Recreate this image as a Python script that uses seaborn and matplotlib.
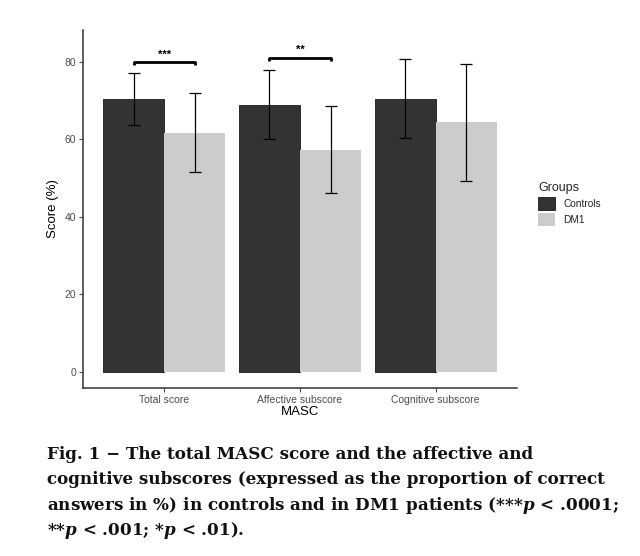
import matplotlib
matplotlib.use("Agg")
import matplotlib.pyplot as plt
import seaborn as sns
import pandas as pd
from matplotlib.patches import Patch

categories = ["Total score", "Affective subscore", "Cognitive subscore"]
groups = ["Controls", "DM1"]
controls_mean = [70.3, 68.9, 70.4]
controls_low = [63.7, 60.0, 60.3]
controls_high = [77.0, 78.0, 80.8]
dm1_mean = [61.7, 57.3, 64.4]
dm1_low = [51.6, 46.2, 49.3]
dm1_high = [72.0, 68.5, 79.5]
sig_categories = ["Total score", "Affective subscore"]
sig_labels = ["***", "**"]
sig_heights = [80.0, 81.1]

colors = ["#333333", "#CCCCCC"]

df = pd.DataFrame({
    "MASC": categories * 2,
    "Score": controls_mean + dm1_mean,
    "Groups": [groups[0]] * 3 + [groups[1]] * 3,
    "low": controls_low + dm1_low,
    "high": controls_high + dm1_high,
})

sns.set_theme(style="white")
plt.rcParams["font.family"] = ["Liberation Sans", "DejaVu Sans"]
plt.rcParams["mathtext.fontset"] = "custom"
plt.rcParams["mathtext.it"] = "DejaVu Serif:bold:italic"
plt.rcParams["mathtext.rm"] = "DejaVu Serif:bold"

fig = plt.figure(figsize=(6.4, 5.56), dpi=100)
ax = fig.add_axes([83 / 640, 1 - 388 / 556, 434 / 640, 358 / 556])

sns.barplot(data=df, x="MASC", y="Score", hue="Groups", order=categories,
            hue_order=groups, palette=colors, width=0.9, gap=0,
            errorbar=None, ax=ax, legend=False, linewidth=0, saturation=1)

bar_containers = list(ax.containers)
centers = {}
for gi, cont in enumerate(bar_containers):
    sub = df[df["Groups"] == groups[gi]].set_index("MASC").loc[categories]
    xs = [p.get_x() + p.get_width() / 2 for p in cont.patches]
    for c, x in zip(categories, xs):
        centers[(c, groups[gi])] = x
    ys = sub["Score"].values
    lo = ys - sub["low"].values
    hi = sub["high"].values - ys
    ax.errorbar(xs, ys, yerr=[lo, hi], fmt="none", ecolor="#000000",
                elinewidth=0.9, capsize=4.5, capthick=0.9)
    if gi == 0:
        for p in cont.patches:
            p.set_edgecolor("#1a1a1a")
            p.set_linewidth(0.6)

for c, lab, h in zip(sig_categories, sig_labels, sig_heights):
    x0 = centers[(c, groups[0])]
    x1 = centers[(c, groups[1])]
    ax.plot([x0, x0, x1, x1], [h - 0.9, h, h, h - 0.9], color="black",
            lw=2.0, solid_capstyle="butt")
    ax.text((x0 + x1) / 2, h + 0.6, lab, ha="center", va="bottom",
            fontsize=8, fontweight="bold", color="black")

ax.set_xlim(-0.6, 2.6)
ax.set_ylim(-4.2, 88.2)
ax.set_yticks([0, 20, 40, 60, 80])
ax.set_xlabel("MASC", fontsize=9.5, color="black", labelpad=1)
ax.set_ylabel("Score (%)", fontsize=9.5, color="black", labelpad=4)
ax.tick_params(axis="both", labelsize=7.5, colors="#4D4D4D", length=3,
               width=0.8, pad=2, bottom=True, left=True)
for s in ["top", "right"]:
    ax.spines[s].set_visible(False)
for s in ["left", "bottom"]:
    ax.spines[s].set_color("#333333")
    ax.spines[s].set_linewidth(1.1)

handles = [Patch(facecolor=colors[0], edgecolor="#1a1a1a", linewidth=0.6),
           Patch(facecolor=colors[1], edgecolor="none")]
leg = fig.legend(handles, groups, title="Groups", loc="upper left",
                 bbox_to_anchor=(534 / 640, 1 - 178 / 556), frameon=False,
                 fontsize=7.3, title_fontsize=9, handlelength=1.7,
                 handleheight=1.7, handletextpad=0.8, labelspacing=0.25,
                 borderaxespad=0)
leg._legend_box.align = "left"

caption_lines = [
    "Fig. 1 \u2212 The total MASC score and the affective and",
    "cognitive subscores (expressed as the proportion of correct",
    "answers in %) in controls and in DM1 patients (***$p$ < .0001;",
    "**$p$ < .001; *$p$ < .01).",
]
caption_baselines = [459, 484, 510, 535]
for line, yb in zip(caption_lines, caption_baselines):
    fig.text(47 / 640, 1 - yb / 556, line, ha="left", va="baseline",
             fontsize=12.1, fontweight="bold", family="DejaVu Serif",
             color="#111111")

fig.savefig("out.png", dpi=100)
